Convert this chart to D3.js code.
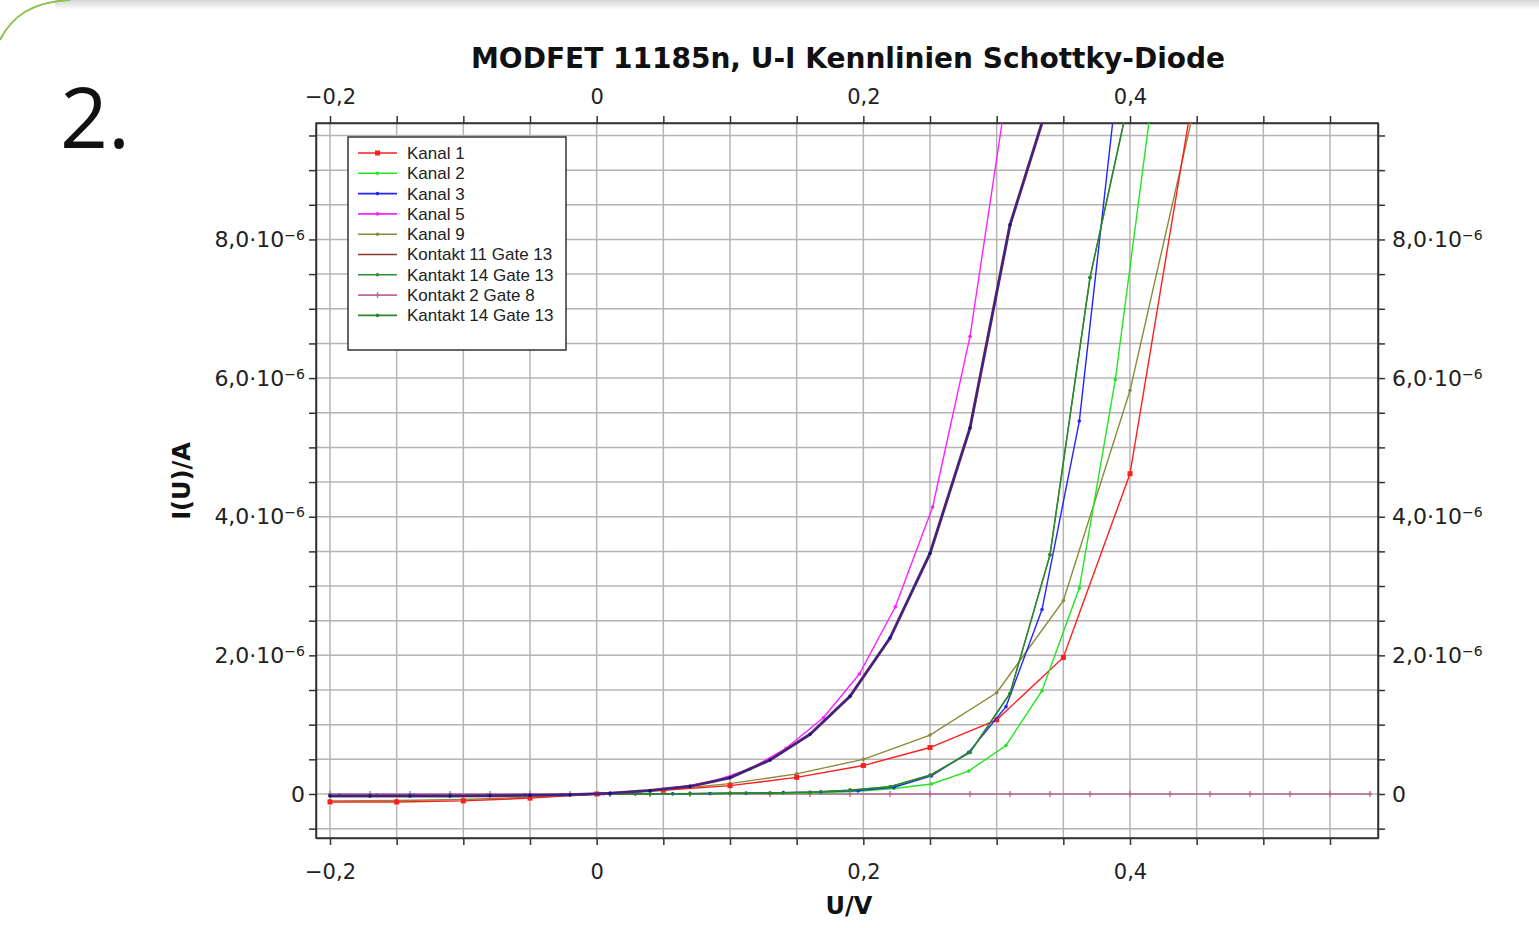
<!DOCTYPE html>
<html>

<head>
    <meta charset="utf-8">
    <title>MODFET 11185n, U-I Kennlinien Schottky-Diode</title>
    <script src="https://d3js.org/d3.v7.min.js"></script>
    <style>
        body {
            margin: 0;
            background: #fff;
        }

        svg {
            display: block;
        }

        .grid line {
            stroke: #b4b4b4;
            stroke-width: 1.5px;
        }

        .axis path,
        .axis line {
            stroke: #333;
            stroke-width: 1.5px;
        }

        .axis text {
            font-family: "DejaVu Sans", sans-serif;
            font-size: 21px;
            fill: #222;
        }

        .y.axis text {
            font-size: 22px;
        }

        .series path {
            fill: none;
            stroke-width: 1.4px;
        }

        .legend text {
            font-family: "Liberation Sans", Arial, sans-serif;
            font-size: 17px;
            fill: #222;
        }
    </style>
</head>

<body>
    <script>
        // U in V, I in 10^-6 A
        const u_kanal1 = [-0.2, -0.15, -0.1, -0.05, 0, 0.05, 0.1, 0.15, 0.2, 0.25, 0.3, 0.35, 0.4, 0.45];
        const i_kanal1 = [-0.115, -0.115, -0.10, -0.06, 0, 0.053, 0.12, 0.24, 0.41, 0.67, 1.07, 1.97, 4.62, 10.4];

        const u_kanal9 = [-0.2, -0.15, -0.1, -0.05, 0, 0.05, 0.1, 0.15, 0.2, 0.25, 0.3, 0.35, 0.4, 0.45];
        const i_kanal9 = [-0.10, -0.095, -0.08, -0.045, 0, 0.06, 0.15, 0.29, 0.50, 0.85, 1.46, 2.79, 5.82, 10.05];

        const u_kanal5 = [-0.188, -0.16, -0.133, -0.105, -0.078, -0.05, -0.023, 0.005, 0.032, 0.06, 0.087, 0.115,
            0.142, 0.17, 0.197, 0.224, 0.252, 0.28, 0.307];
        const i_kanal5 = [-0.02, -0.02, -0.02, -0.02, -0.02, -0.015, -0.01, 0, 0.035, 0.09, 0.18, 0.36,
            0.66, 1.10, 1.73, 2.70, 4.14, 6.60, 10.06];

        const u_kontakt11 = [-0.2, -0.17, -0.14, -0.11, -0.08, -0.05, -0.02, 0.01, 0.04, 0.07, 0.1, 0.13,
            0.16, 0.19, 0.22, 0.25, 0.28, 0.31, 0.34];
        const i_kontakt11 = [-0.03, -0.03, -0.03, -0.03, -0.025, -0.02, -0.01, 0.01, 0.05, 0.11, 0.235, 0.49,
            0.86, 1.41, 2.25, 3.47, 5.28, 8.21, 10.05];

        const u_kanal3 = [-0.193, -0.165, -0.137, -0.109, -0.082, -0.054, -0.026, 0.002, 0.029, 0.057, 0.085,
            0.112, 0.140, 0.168, 0.196, 0.223, 0.251, 0.279, 0.307, 0.334, 0.362, 0.389];
        const i_kanal3 = [-0.02, -0.02, -0.02, -0.02, -0.02, -0.015, -0.01, 0, 0.002, 0.004, 0.008,
            0.013, 0.02, 0.03, 0.05, 0.097, 0.26, 0.60, 1.26, 2.66, 5.38, 10.03];

        const u_kanal2 = [-0.193, -0.165, -0.137, -0.109, -0.082, -0.054, -0.026, 0.002, 0.029, 0.057, 0.085,
            0.112, 0.140, 0.168, 0.196, 0.223, 0.251, 0.279, 0.307, 0.334, 0.362, 0.389, 0.417];
        const i_kanal2 = [-0.02, -0.02, -0.02, -0.02, -0.02, -0.015, -0.01, 0, 0.0, 0.002, 0.004,
            0.008, 0.012, 0.018, 0.04, 0.08, 0.144, 0.33, 0.70, 1.49, 2.97, 5.98, 10.1];

        const u_kantakt14a = [-0.2, -0.17, -0.14, -0.11, -0.08, -0.05, -0.02, 0.01, 0.04, 0.07, 0.1, 0.13,
            0.16, 0.19, 0.22, 0.25, 0.28, 0.31, 0.34, 0.37, 0.40];
        const i_kantakt14a = [-0.02, -0.02, -0.02, -0.02, -0.02, -0.015, -0.01, 0, 0.002, 0.005, 0.01, 0.015,
            0.025, 0.055, 0.105, 0.27, 0.60, 1.45, 3.45, 7.45, 10.1];

        const u_kantakt14b = [-0.2, -0.17, -0.14, -0.11, -0.08, -0.05, -0.02, 0.01, 0.04, 0.07, 0.1, 0.13,
            0.16, 0.19, 0.22, 0.25, 0.28, 0.31, 0.34, 0.37, 0.40];
        const i_kantakt14b = [-0.02, -0.02, -0.02, -0.02, -0.02, -0.015, -0.01, 0, 0.002, 0.005, 0.01, 0.015,
            0.025, 0.055, 0.105, 0.27, 0.60, 1.45, 3.45, 7.45, 10.1];

        const u_kontakt2 = [-0.2, -0.17, -0.14, -0.11, -0.08, -0.05, -0.02, 0.01, 0.04, 0.07, 0.1, 0.13, 0.16,
            0.19, 0.22, 0.25, 0.28, 0.31, 0.34, 0.37, 0.4, 0.43, 0.46, 0.49, 0.52, 0.55, 0.58];
        const i_kontakt2 = [0, 0, 0, 0, 0, 0, 0, 0, 0, 0, 0, 0, 0,
            0, 0, 0, 0, 0, 0, 0, 0, 0, 0, 0, 0, 0, 0];

        const legend_names = ["Kanal 1", "Kanal 2", "Kanal 3", "Kanal 5", "Kanal 9", "Kontakt 11 Gate 13",
            "Kantakt 14 Gate 13", "Kontakt 2 Gate 8", "Kantakt 14 Gate 13"];

        const x_labels = [-0.2, 0, 0.2, 0.4];
        const y_labels = [0, 2, 4, 6, 8];

        function zip(u, i) {
            return u.map((d, k) => ({ u: d, i: i[k] }));
        }

        // legend order, drawing order is separate
        let series = [
            { name: legend_names[0], data: zip(u_kanal1, i_kanal1), color: "#ff1e1e", marker: "square" },
            { name: legend_names[1], data: zip(u_kanal2, i_kanal2), color: "#22e622", marker: "dot" },
            { name: legend_names[2], data: zip(u_kanal3, i_kanal3), color: "#2424ff", marker: "dot" },
            { name: legend_names[3], data: zip(u_kanal5, i_kanal5), color: "#ff20ff", marker: "dot" },
            { name: legend_names[4], data: zip(u_kanal9, i_kanal9), color: "#8a8a3a", marker: "dot" },
            { name: legend_names[5], data: zip(u_kontakt11, i_kontakt11), color: "#8b3a3a", marker: "none", overlay: "#1a1ab4" },
            { name: legend_names[6], data: zip(u_kantakt14a, i_kantakt14a), color: "#2f8f2f", marker: "dot" },
            { name: legend_names[7], data: zip(u_kontakt2, i_kontakt2), color: "#b86a9c", marker: "plus" },
            { name: legend_names[8], data: zip(u_kantakt14b, i_kantakt14b), color: "#2a882a", marker: "dot" }
        ];
        let draw_order = [7, 4, 0, 1, 2, 6, 8, 3, 5];

        let width = 1539;
        let height = 928;
        let plot = { left: 316, right: 1378, top: 123, bottom: 838 };

        let svg = d3.select('body').append('svg')
            .attr('width', width)
            .attr('height', height);

        // slide decoration
        let defs = svg.append("defs");
        let grad = defs.append("linearGradient").attr("id", "shade")
            .attr("x1", 0).attr("y1", 0).attr("x2", 0).attr("y2", 1);
        grad.append("stop").attr("offset", "0%").attr("stop-color", "#d6d6d6");
        grad.append("stop").attr("offset", "100%").attr("stop-color", "#ffffff");
        svg.append("rect").attr("x", 55).attr("y", 0).attr("width", width - 55).attr("height", 10)
            .attr("fill", "url(#shade)");
        svg.append("path")
            .attr("d", "M0,40 C12,16 32,2 70,0")
            .attr("fill", "none")
            .attr("stroke", "#8dc152")
            .attr("stroke-width", 2);
        svg.append("text")
            .attr("x", 60).attr("y", 148)
            .attr("font-family", "Open Sans, Noto Sans, sans-serif")
            .attr("font-size", 84)
            .attr("fill", "#111")
            .text("2.");

        let x_scale = d3.scaleLinear().domain([-0.2105, 0.586]).range([plot.left, plot.right]);
        let y_scale = d3.scaleLinear().domain([-0.635, 9.68]).range([plot.bottom, plot.top]);

        let x_grid = d3.range(-4, 12).map(k => k * 0.05);
        let y_grid = d3.range(-1, 20).map(k => k * 0.5);

        // grid
        let grid = svg.append("g").attr("class", "grid");
        grid.selectAll("line.v").data(x_grid).join("line").attr("class", "v")
            .attr("x1", d => x_scale(d)).attr("x2", d => x_scale(d))
            .attr("y1", plot.top).attr("y2", plot.bottom);
        grid.selectAll("line.h").data(y_grid).join("line").attr("class", "h")
            .attr("y1", d => y_scale(d)).attr("y2", d => y_scale(d))
            .attr("x1", plot.left).attr("x2", plot.right);

        let is_label = (arr, d) => arr.some(v => Math.abs(v - d) < 1e-9);
        let fmt = d => Math.abs(d) < 1e-9 ? "0" : d3.format(".1f")(d).replace(".", ",").replace("-", "\u2212");

        let x_fmt = d => is_label(x_labels, d) ? fmt(d) : "";

        svg.append("g").attr("class", "x axis")
            .attr("transform", "translate(0," + plot.bottom + ")")
            .call(d3.axisBottom(x_scale).tickValues(x_grid).tickSize(7).tickSizeOuter(0).tickPadding(19).tickFormat(x_fmt));
        svg.append("g").attr("class", "x axis")
            .attr("transform", "translate(0," + plot.top + ")")
            .call(d3.axisTop(x_scale).tickValues(x_grid).tickSize(7).tickSizeOuter(0).tickPadding(12).tickFormat(x_fmt));

        let y_fmt = d => is_label(y_labels, d) ? "y" : "";

        function sci(sel) {
            sel.selectAll(".tick text").each(function (d) {
                let t = d3.select(this);
                if (t.text() === "") return;
                t.text(null);
                if (Math.abs(d) < 1e-9) {
                    t.text("0");
                    return;
                }
                t.append("tspan").text(d3.format(".1f")(d).replace(".", ",") + "\u00b710");
                t.append("tspan").attr("dy", "-0.5em").attr("font-size", "14px").text("\u22126");
            });
        }

        svg.append("g").attr("class", "y axis")
            .attr("transform", "translate(" + plot.left + ",0)")
            .call(d3.axisLeft(y_scale).tickValues(y_grid).tickSize(7).tickSizeOuter(0).tickPadding(4).tickFormat(y_fmt))
            .call(sci);
        svg.append("g").attr("class", "y axis")
            .attr("transform", "translate(" + plot.right + ",0)")
            .call(d3.axisRight(y_scale).tickValues(y_grid).tickSize(7).tickSizeOuter(0).tickPadding(7).tickFormat(y_fmt))
            .call(sci);

        // full frame
        svg.append("rect")
            .attr("x", plot.left).attr("y", plot.top)
            .attr("width", plot.right - plot.left).attr("height", plot.bottom - plot.top)
            .attr("fill", "none").attr("stroke", "#333").attr("stroke-width", 1.5);

        // series
        defs.append("clipPath").attr("id", "clip")
            .append("rect")
            .attr("x", plot.left).attr("y", plot.top)
            .attr("width", plot.right - plot.left).attr("height", plot.bottom - plot.top);

        let line = d3.line().x(d => x_scale(d.u)).y(d => y_scale(d.i));
        let lines = svg.append("g").attr("class", "series").attr("clip-path", "url(#clip)");

        function marker(g, type, color, px, py) {
            if (type === "square") {
                g.append("rect").attr("x", px - 2.5).attr("y", py - 2.5).attr("width", 5).attr("height", 5)
                    .attr("fill", color);
            } else if (type === "dot") {
                g.append("circle").attr("cx", px).attr("cy", py).attr("r", 1.8).attr("fill", color);
            } else if (type === "plus") {
                g.append("path").attr("d", "M" + px + "," + (py - 3) + "V" + (py + 3) + "M" + (px - 2) + "," + py + "H" + (px + 2))
                    .attr("stroke", color).attr("stroke-width", 1.3);
            }
        }

        draw_order.forEach(k => {
            let s = series[k];
            let g = lines.append("g");
            if (s.overlay) {
                g.append("path").attr("d", line(s.data)).attr("stroke", s.color).style("stroke-width", "3px");
                g.append("path").attr("d", line(s.data)).attr("stroke", s.overlay).style("stroke-width", "2px").attr("opacity", 0.75);
                s.data.forEach(d => marker(g, "dot", "#14148c", x_scale(d.u), y_scale(d.i)));
            } else {
                g.append("path").attr("d", line(s.data)).attr("stroke", s.color);
                s.data.forEach(d => marker(g, s.marker, s.color, x_scale(d.u), y_scale(d.i)));
            }
        });

        // legend
        let legend = svg.append("g").attr("class", "legend");
        legend.append("rect")
            .attr("x", 348).attr("y", 137).attr("width", 218).attr("height", 213)
            .attr("fill", "#fff").attr("stroke", "#333").attr("stroke-width", 1.5);
        series.forEach((s, k) => {
            let ly = 153 + k * 20.3;
            let g = legend.append("g");
            g.append("line").attr("x1", 358).attr("x2", 397).attr("y1", ly).attr("y2", ly)
                .attr("stroke", s.color).attr("stroke-width", 1.6);
            marker(g, s.marker, s.color, 377.5, ly);
            g.append("text").attr("x", 407).attr("y", ly).attr("dy", "0.35em").text(s.name);
        });

        // titles
        svg.append("text")
            .attr("x", 848).attr("y", 68)
            .attr("text-anchor", "middle")
            .attr("font-family", "DejaVu Sans, sans-serif")
            .attr("font-weight", "bold")
            .attr("font-size", 28)
            .attr("fill", "#111")
            .text("MODFET 11185n, U-I Kennlinien Schottky-Diode");

        svg.append("text")
            .attr("x", 849).attr("y", 914)
            .attr("text-anchor", "middle")
            .attr("font-family", "DejaVu Sans, sans-serif")
            .attr("font-weight", "bold")
            .attr("font-size", 24)
            .attr("fill", "#111")
            .text("U/V");

        svg.append("text")
            .attr("transform", "translate(190,481) rotate(-90)")
            .attr("text-anchor", "middle")
            .attr("font-family", "DejaVu Sans, sans-serif")
            .attr("font-weight", "bold")
            .attr("font-size", 24)
            .attr("fill", "#111")
            .text("I(U)/A");
    </script>
</body>

</html>
